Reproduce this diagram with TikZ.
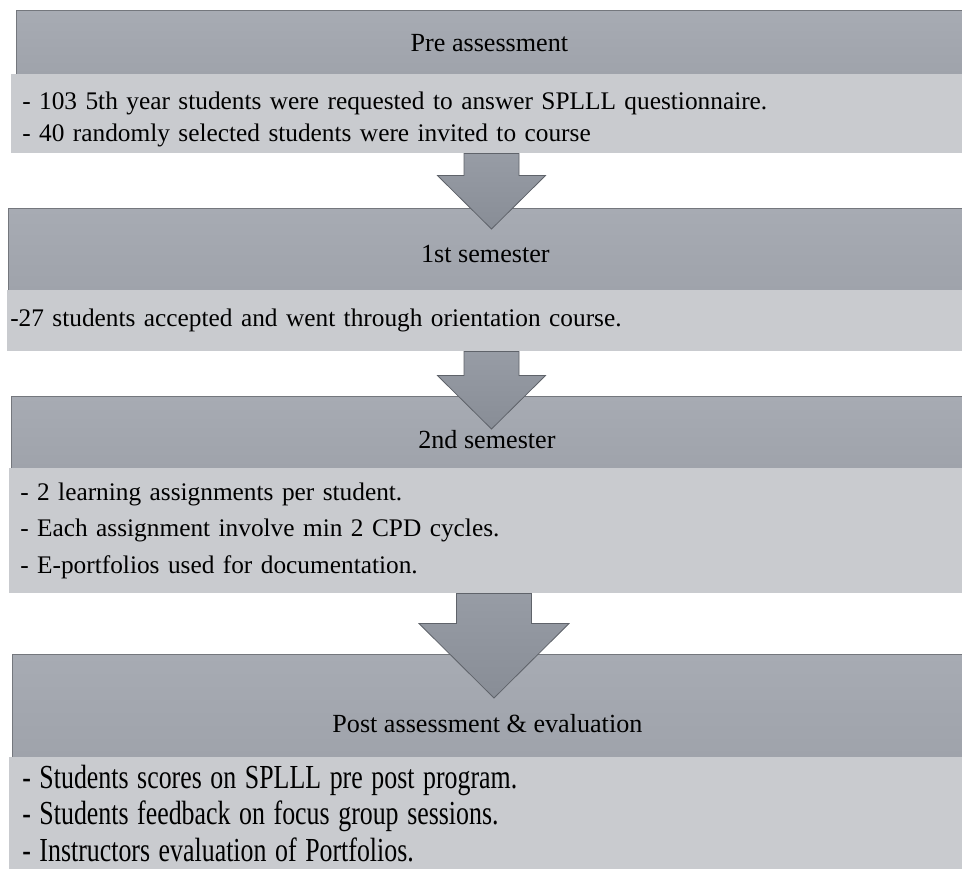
\documentclass[tikz,border=0pt]{standalone}
\usepackage{fontspec}
\setmainfont{Liberation Serif}
\usetikzlibrary{positioning,calc}

\definecolor{headtop}{HTML}{A7ABB3}
\definecolor{headbot}{HTML}{9FA3AB}
\definecolor{headline}{HTML}{74777D}
\definecolor{bodygray}{HTML}{C9CBCF}
\definecolor{arrowtop}{HTML}{979CA5}
\definecolor{arrowbot}{HTML}{888D96}
\definecolor{arrowline}{HTML}{5F636A}

\tikzset{
  header/.style={anchor=north west, draw=headline, line width=0.6pt,
    top color=headtop, bottom color=headbot, inner sep=0pt, text depth=0pt,
    font=\fontsize{19.6}{24}\selectfont},
  body/.style={anchor=north west, fill=bodygray, align=left, inner ysep=0pt,
    font=\fontsize{19}{27.4}\selectfont},
  blockarrow/.style={draw=arrowline, line width=0.6pt,
    top color=arrowtop, bottom color=arrowbot},
}

% block arrow: top point, tip, half shaft, half head, shaft length
\newcommand{\flowarrow}[5]{%
  \draw[blockarrow] ($(#1)+(-#3,0)$) -- ($(#1)+(-#3,#5)$) -- ($(#1)+(-#4,#5)$)
    -- (#2) -- ($(#1)+(#4,#5)$) -- ($(#1)+(#3,#5)$) -- ($(#1)+(#3,0)$) -- cycle;}

\begin{document}
\begin{tikzpicture}[x=0.75pt,y=-0.75pt]
\useasboundingbox (0,0) rectangle (962,869);

% pre assessment
\node[header, minimum width=709.5pt, minimum height=48pt, text height=13.4pt] (pre) at (16,10) {Pre assessment};
\node[body, text width=696.75pt, inner xsep=8.25pt, minimum height=59.25pt,
  font=\fontsize{19}{24}\selectfont] (prebody) at (11,74)
  {\rule{0pt}{22pt}- 103 5th year students were requested to answer SPLLL questionnaire.\\
   - 40 randomly selected students were invited to course};

% 1st semester
\node[header, minimum width=715.5pt, minimum height=61.5pt, text height=19.4pt] (sem1) at (8,208) {1st semester};
\node[body, text width=711.75pt, inner xsep=2.25pt, minimum height=45.75pt] (sem1body) at (7,290)
  {-27 students accepted and went through orientation course.};

% 2nd semester
\node[header, minimum width=713.25pt, minimum height=54pt, text height=23.9pt] (sem2) at (11,396) {2nd semester};
\node[body, text width=698.25pt, inner xsep=8.25pt, minimum height=93.75pt] (sem2body) at (9,468)
  {- 2 learning assignments per student.\\
   - Each assignment involve min 2 CPD cycles.\\
   - E-portfolios used for documentation.};

% post assessment
\node[header, minimum width=712.5pt, minimum height=77.25pt, text height=40.4pt] (post) at (12,654) {Post assessment \& evaluation};
\node[body, text width=695.25pt, inner xsep=9.75pt, minimum height=84pt,
  font=\fontsize{19.4}{27.4}\selectfont] (postbody) at (9,757)
  {\scalebox{1}[1.3]{- Students scores on SPLLL pre post program.}\\
   \scalebox{1}[1.3]{- Students feedback on focus group sessions.}\\
   \scalebox{1}[1.3]{- Instructors evaluation of Portfolios.}};

% arrows
\path (prebody.south -| 491.5,0) coordinate (a1) ($(sem1.north -| a1)+(0,21)$) coordinate (t1);
\path (sem1body.south -| 491.5,0) coordinate (a2) ($(sem2.north -| a2)+(0,33)$) coordinate (t2);
\path (sem2body.south -| 494,0) coordinate (a3) ($(post.north -| a3)+(0,44)$) coordinate (t3);
\flowarrow{a1}{t1}{27.5}{54}{22}
\flowarrow{a2}{t2}{27.5}{54}{24}
\flowarrow{a3}{t3}{37.5}{75}{30}
\end{tikzpicture}
\end{document}
